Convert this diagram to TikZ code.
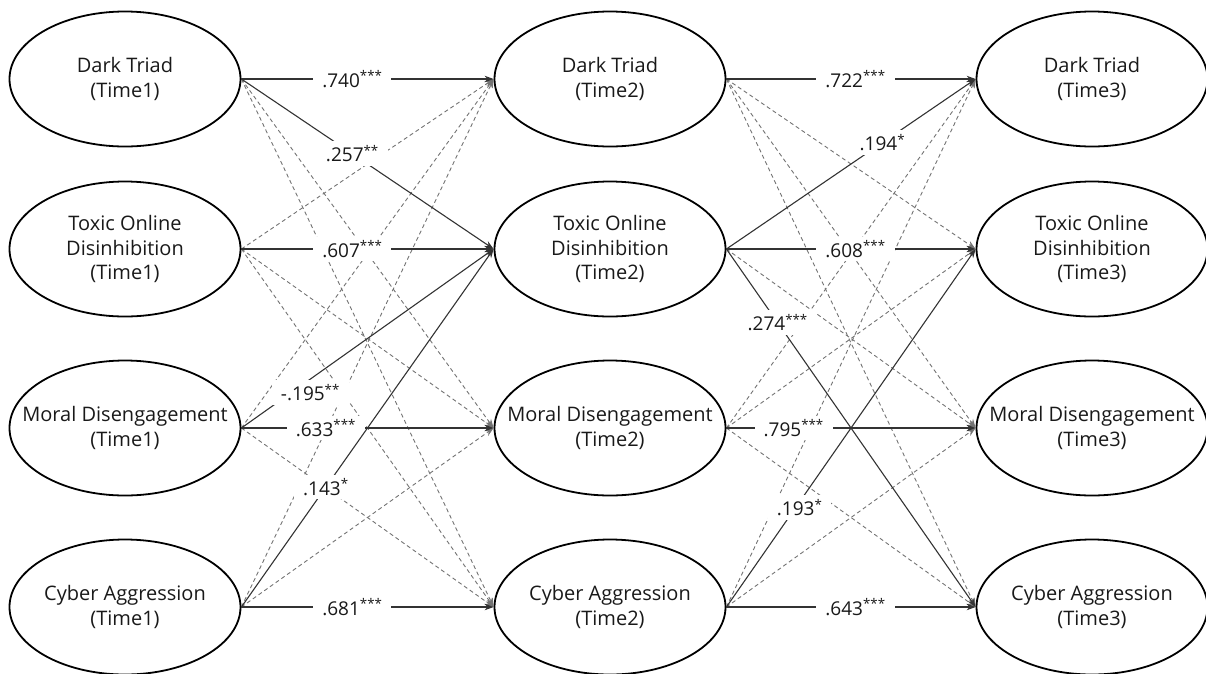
\documentclass[tikz,border=0pt]{standalone}
\usepackage{fontspec}
\setmainfont{Open Sans}
\usetikzlibrary{shapes.geometric,arrows.meta}

\begin{document}
\begin{tikzpicture}[x=1pt, y=-1pt, >={Stealth[length=9pt,width=6.5pt]},
    latent/.style={ellipse, draw=black, line width=1.8pt, minimum width=231pt, minimum height=135pt,
        inner xsep=-25pt, inner ysep=0pt, align=center, font=\fontsize{20}{24.5}\selectfont, text=black!90},
    sigpath/.style={->, line width=1.1pt, draw=black!80},
    nspath/.style={->, line width=0.9pt, draw=black!55, dash pattern=on 4pt off 3pt},
    coef/.style={fill=white, inner xsep=9pt, inner ysep=4pt, font=\fontsize{19}{22}\selectfont, text=black!90}]

    \useasboundingbox (0,0) rectangle (1206,673);

    % Time1
    \node[latent] (dtA)  at (125,79)  {Dark Triad\\(Time1)};
    \node[latent] (todA) at (125,249) {Toxic Online\\Disinhibition\\(Time1)};
    \node[latent] (mdA)  at (125,428) {Moral Disengagement\\(Time1)};
    \node[latent] (caA)  at (125,607) {Cyber Aggression\\(Time1)};

    % Time2
    \node[latent] (dtB)  at (610,79)  {Dark Triad\\(Time2)};
    \node[latent] (todB) at (610,249) {Toxic Online\\Disinhibition\\(Time2)};
    \node[latent] (mdB)  at (610,428) {Moral Disengagement\\(Time2)};
    \node[latent] (caB)  at (610,607) {Cyber Aggression\\(Time2)};

    % Time3
    \node[latent] (dtC)  at (1092,79)  {Dark Triad\\(Time3)};
    \node[latent] (todC) at (1092,249) {Toxic Online\\Disinhibition\\(Time3)};
    \node[latent] (mdC)  at (1092,428) {Moral Disengagement\\(Time3)};
    \node[latent] (caC)  at (1092,607) {Cyber Aggression\\(Time3)};

    % Non-significant paths (Time1 -> Time2)
    \draw[nspath] (dtA.east)  -- (mdB.west);
    \draw[nspath] (dtA.east)  -- (caB.west);
    \draw[nspath] (todA.east) -- (dtB.west);
    \draw[nspath] (todA.east) -- (mdB.west);
    \draw[nspath] (todA.east) -- (caB.west);
    \draw[nspath] (mdA.east)  -- (dtB.west);
    \draw[nspath] (mdA.east)  -- (caB.west);
    \draw[nspath] (caA.east)  -- (dtB.west);
    \draw[nspath] (caA.east)  -- (mdB.west);

    % Non-significant paths (Time2 -> Time3)
    \draw[nspath] (dtB.east)  -- (todC.west);
    \draw[nspath] (dtB.east)  -- (mdC.west);
    \draw[nspath] (dtB.east)  -- (caC.west);
    \draw[nspath] (todB.east) -- (mdC.west);
    \draw[nspath] (mdB.east)  -- (dtC.west);
    \draw[nspath] (mdB.east)  -- (todC.west);
    \draw[nspath] (mdB.east)  -- (caC.west);
    \draw[nspath] (caB.east)  -- (dtC.west);
    \draw[nspath] (caB.east)  -- (mdC.west);

    % Significant paths (Time1 -> Time2)
    \draw[sigpath] (dtA.east)  -- node[coef, pos=0.44]  {.740\textsuperscript{***}} (dtB.west);
    \draw[sigpath] (dtA.east)  -- node[coef, pos=0.44]  {.257\textsuperscript{**}} (todB.west);
    \draw[sigpath] (todA.east) -- node[coef, pos=0.44]  {.607\textsuperscript{***}} (todB.west);
    \draw[sigpath] (mdA.east)  -- node[coef, pos=0.25, xshift=6pt, yshift=-9pt] {-.195\textsuperscript{**}} (todB.west);
    \draw[sigpath] (mdA.east)  -- node[coef, pos=0.335] {.633\textsuperscript{***}} (mdB.west);
    \draw[sigpath] (caA.east)  -- node[coef, pos=0.335] {.143\textsuperscript{*}} (todB.west);
    \draw[sigpath] (caA.east)  -- node[coef, pos=0.44]  {.681\textsuperscript{***}} (caB.west);

    % Significant paths (Time2 -> Time3)
    \draw[sigpath] (dtB.east)  -- node[coef, pos=0.518] {.722\textsuperscript{***}} (dtC.west);
    \draw[sigpath] (todB.east) -- node[coef, pos=0.626] {.194\textsuperscript{*}} (dtC.west);
    \draw[sigpath] (todB.east) -- node[coef, pos=0.518] {.608\textsuperscript{***}} (todC.west);
    \draw[sigpath] (todB.east) -- node[coef, pos=0.206] {.274\textsuperscript{***}} (caC.west);
    \draw[sigpath] (mdB.east)  -- node[coef, pos=0.27]  {.795\textsuperscript{***}} (mdC.west);
    \draw[sigpath] (caB.east)  -- node[coef, pos=0.294, yshift=-6pt] {.193\textsuperscript{*}} (todC.west);
    \draw[sigpath] (caB.east)  -- node[coef, pos=0.518] {.643\textsuperscript{***}} (caC.west);
\end{tikzpicture}
\end{document}
